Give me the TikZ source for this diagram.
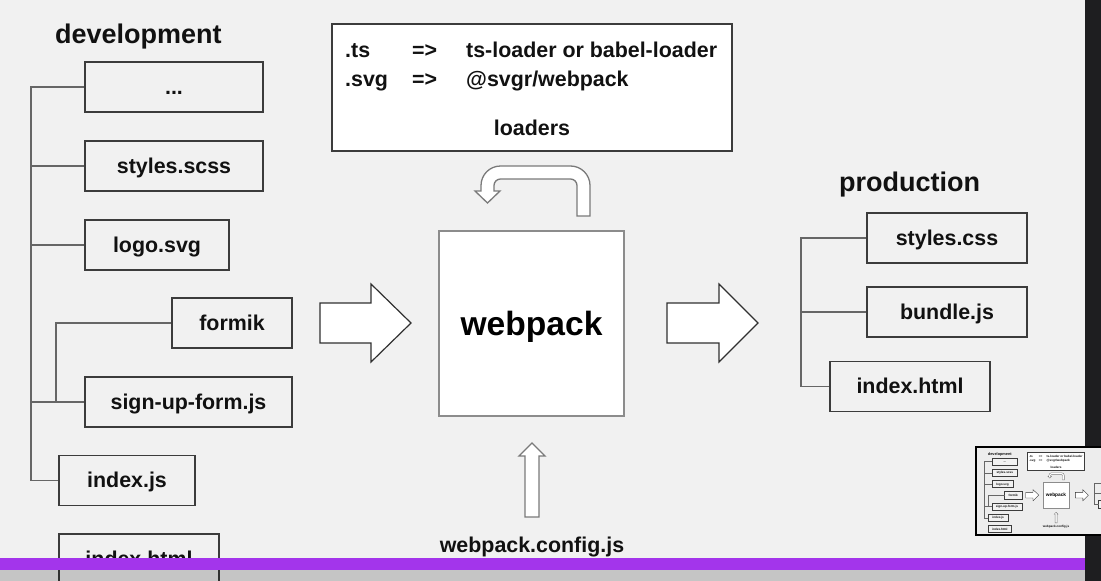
\documentclass[tikz,border=0pt]{standalone}
\usepackage{fontspec}
\setmainfont{Liberation Sans}
\definecolor{bgc}{HTML}{F1F1F1}
\definecolor{thumbbg}{HTML}{EDEDED}
\definecolor{boxc}{HTML}{3C3C3C}
\definecolor{treec}{HTML}{666666}
\definecolor{arrowc}{HTML}{303030}
\definecolor{lightarrowc}{HTML}{7A7A7A}
\definecolor{wpc}{HTML}{8C8C8C}
\definecolor{darkbar}{HTML}{1E1E20}
\definecolor{purplec}{HTML}{A335EB}
\definecolor{textc}{HTML}{111111}
\def\lwf{1}
\newif\ifmainview
\mainviewtrue
\newcommand\prodlabel[1]{\ifmainview#1\fi}
\tikzset{
  filebox/.style={draw=boxc, line width={\lwf*1.6pt}, fill=bgc, minimum height=50pt,
    inner sep=0pt, text=textc, font=\fontsize{21.4pt}{25pt}\selectfont\bfseries,
    text height=15.4pt, text depth=0.6pt},
  titletext/.style={inner sep=0pt, text=textc, font=\fontsize{27pt}{32pt}\selectfont\bfseries},
  ltext/.style={inner sep=0pt, text=textc, font=\fontsize{21.4pt}{25pt}\selectfont\bfseries},
  loadbox/.style={draw=boxc, line width={\lwf*1.5pt}, fill=white, inner sep=0pt},
  wpbox/.style={draw=wpc, line width={\lwf*1.5pt}, fill=white, inner sep=0pt,
    minimum width=185pt, minimum height=185pt, text=black,
    font=\fontsize{33.6pt}{38pt}\selectfont\bfseries, text height=24.2pt, text depth=1pt},
  treeline/.style={draw=treec, line width={\lwf*1.3pt}},
  blockarrow/.style={draw=arrowc, line width={\lwf*1.2pt}, fill=white, line join=miter},
  lightarrow/.style={draw=lightarrowc, line width={\lwf*1.3pt}, fill=white, line join=miter},
}
\newcommand\slidedrawing{%
  % titles
  \node[titletext, anchor=base west] (devt) at (55,43) {development};
  \node[titletext, anchor=base west] (prodt) at (839,191) {\prodlabel{production}};
  % development tree
  \coordinate (trunkx) at (31,0);
  \coordinate (subx) at (56,0);
  \node[filebox, minimum width=178pt] (dots) at (174,87) {...};
  \node[filebox, minimum width=178pt] (scss) at (174,166) {styles.scss};
  \node[filebox, minimum width=144pt] (logo) at (157,245) {logo.svg};
  \node[filebox, minimum width=120pt] (formik) at (232,323) {formik};
  \node[filebox, minimum width=207pt] (signup) at (188.5,402) {sign-up-form.js};
  \node[filebox, minimum width=136pt] (indexjs) at (127,480.5) {index.js};
  \node[filebox, minimum width=160pt] (indexhtml) at (139,559) {index.html};
  \draw[treeline] (dots.west) -- (dots.west -| trunkx) |- (indexjs.west);
  \draw[treeline] (scss.west) -- (scss.west -| trunkx);
  \draw[treeline] (logo.west) -- (logo.west -| trunkx);
  \draw[treeline] (signup.west) -- (signup.west -| trunkx);
  \draw[treeline] (formik.west) -- (formik.west -| subx) |- (signup.west);
  % production tree
  \coordinate (ptrunkx) at (801,0);
  \node[filebox, minimum width=160pt] (pcss) at (947,238) {\prodlabel{styles.css}};
  \node[filebox, minimum width=160pt] (pbundle) at (947,312) {\prodlabel{bundle.js}};
  \node[filebox, minimum width=160pt] (phtml) at (910,386.5) {\prodlabel{index.html}};
  \draw[treeline] (pcss.west) -- (pcss.west -| ptrunkx) |- (phtml.west);
  \draw[treeline] (pbundle.west) -- (pbundle.west -| ptrunkx);
  % loaders box
  \node[loadbox, minimum width=400pt, minimum height=127pt] (loaders) at (532,87.5) {};
  \node[ltext, anchor=base west] (tsext) at (345,57) {.ts};
  \node[ltext, anchor=base west] (tsarrow) at (412,57) {=>};
  \node[ltext, anchor=base west] (tsload) at (466,57) {ts-loader or babel-loader};
  \node[ltext, anchor=base west] (svgext) at (345,86) {.svg};
  \node[ltext, anchor=base west] (svgarrow) at (412,86) {=>};
  \node[ltext, anchor=base west] (svgload) at (466,86) {@svgr/webpack};
  \node[ltext, anchor=base] (loadlabel) at (532,135) {loaders};
  % webpack box
  \node[wpbox] (wp) at (531.5,323.5) {webpack};
  % block arrows
  \draw[blockarrow] (320,303) -- (371,303) -- (371,284) -- (411,323) -- (371,362) -- (371,343) -- (320,343) -- cycle;
  \draw[blockarrow] (667,303) -- (719,303) -- (719,284) -- (758,323) -- (719,362) -- (719,343) -- (667,343) -- cycle;
  \draw[lightarrow] (525,517) -- (525,456) -- (519,456) -- (532,443) -- (545,456) -- (539,456) -- (539,517) -- cycle;
  \draw[lightarrow] (590,216) -- (590,185.5) arc[start angle=0, end angle=-90, radius=19.5]
    -- (500.5,166) arc[start angle=-90, end angle=-180, radius=19.5]
    -- (481,191) -- (475,191) -- (487.5,203) -- (500,191) -- (494,191) -- (494,185.5)
    arc[start angle=180, end angle=270, radius=6.5]
    -- (570.5,179) arc[start angle=-90, end angle=0, radius=6.5]
    -- (577,216) -- cycle;
  % config label
  \node[ltext, anchor=base] (cfg) at (532,552) {webpack.config.js};
}
\begin{document}
\begin{tikzpicture}[x=1pt,y=-1pt]
\useasboundingbox (0,0) rectangle (1101,581);
\fill[bgc] (0,0) rectangle (1085,581);
\slidedrawing
\fill[purplec] (0,558) rectangle (1085,570);
\fill[black, opacity=0.18] (0,570) rectangle (1085,581);
\fill[darkbar] (1085,0) rectangle (1101,581);
% thumbnail
\begin{scope}
  \clip (975,446) rectangle (1101,536);
  \fill[thumbbg] (975,446) rectangle (1101,536);
  \begin{scope}[shift={(980,449)}, scale=0.143, transform shape]
    \def\lwf{0.3}
    \mainviewfalse
    \slidedrawing
  \end{scope}
\end{scope}
\draw[black, line width=2.4pt] (976.2,447.2) rectangle (1106,534.8);
\end{tikzpicture}
\end{document}
